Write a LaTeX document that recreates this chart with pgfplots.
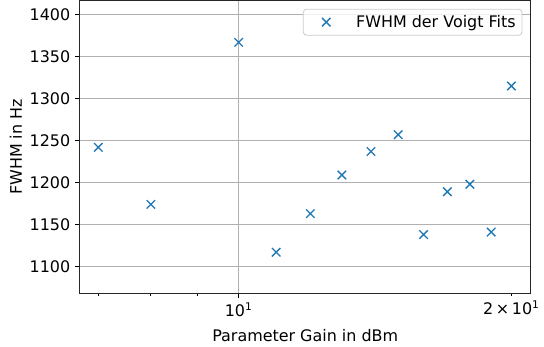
\documentclass[border=0pt]{standalone}
\usepackage{fontspec}
\setmainfont{DejaVu Sans}
\usepackage{pgfplots}
\pgfplotsset{compat=1.18}

\definecolor{mplblue}{HTML}{1F77B4}
\definecolor{gridgray}{HTML}{B0B0B0}
\definecolor{legedge}{HTML}{CCCCCC}

\begin{document}
\begin{tikzpicture}[font=\fontsize{12}{14}\selectfont]
\begin{axis}[
  scale only axis,
  width=339.75pt,
  height=220.9pt,
  xmode=log,
  log basis x=10,
  xmin=6.676, xmax=21.01,
  ymin=1067.6, ymax=1417,
  xtick={10},
  xticklabels={10\textsuperscript{1}},
  extra x ticks={20},
  extra x tick labels={2\,×\,10\textsuperscript{1}},
  extra x tick style={grid=none, major tick length=2.1pt},
  minor xtick={7,8,9},
  ytick={1100,1150,...,1400},
  /pgf/number format/assume math mode=true,
  /pgf/number format/1000 sep={},
  tick pos=left,
  tick align=outside,
  major tick length=3.6pt,
  minor tick length=2.1pt,
  every tick/.style={black, line width=0.6pt},
  axis line style={line width=0.6pt, black!85},
  xmajorgrids, ymajorgrids,
  major grid style={gridgray, line width=0.6pt},
  xlabel={Parameter Gain in dBm},
  ylabel={FWHM in Hz},
  xlabel style={yshift=3pt},
  ylabel style={yshift=-1pt},
  legend style={
    at={(1,1)}, anchor=north east, xshift=-6.3pt, yshift=-6.3pt,
    draw=legedge, line width=0.6pt, rounded corners=2.5pt,
    fill=white, fill opacity=0.8, text opacity=1,
    inner xsep=4.8pt, inner ysep=4.5pt,
    nodes={inner sep=0pt},
  },
  legend image code/.code={
    \path[draw=none] (0pt,0pt) -- (35pt,0pt);
    \draw[#1, only marks] plot coordinates {(12.5pt,0pt)};
  },
]
\addplot[only marks, mark=x, mark size=4.5pt, mplblue,
  mark options={line width=1pt}] coordinates {
  (7,1242) (8,1174) (10,1367) (11,1117) (12,1163) (13,1209) (14,1237)
  (15,1257) (16,1138) (17,1189) (18,1198) (19,1141) (20,1315)
};
\addlegendentry{FWHM der Voigt Fits}
\end{axis}
\path ([xshift=-4pt]current bounding box.west);
\end{tikzpicture}
\end{document}
